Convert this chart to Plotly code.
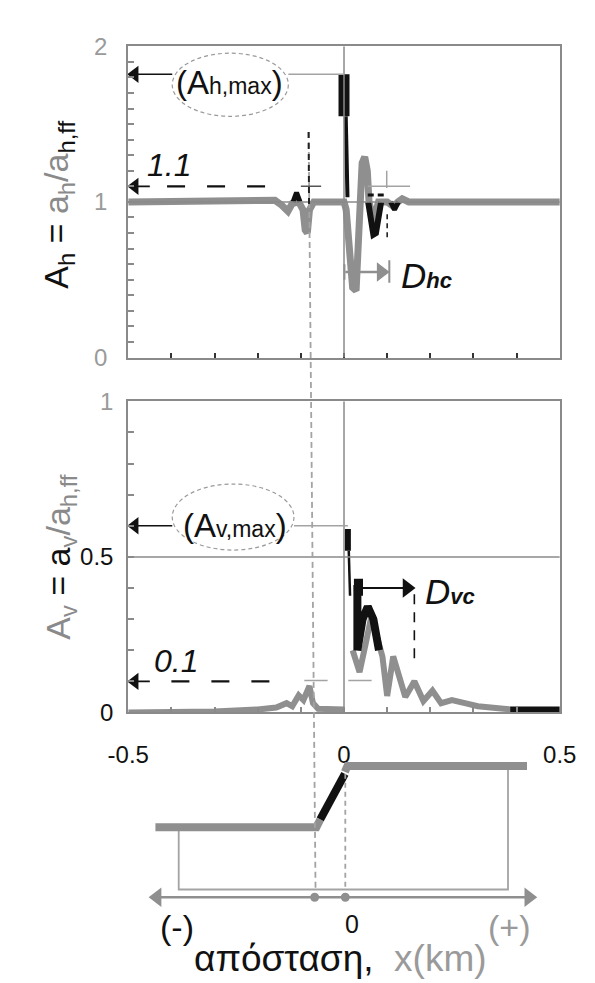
import plotly.graph_objects as go

# ---------------- data ----------------
# Panel 1: horizontal amplification A_h = a_h / a_h,ff  (grey full record)
x_h = [-0.5, -0.3, -0.2, -0.16, -0.145, -0.13, -0.12, -0.105, -0.095, -0.09, -0.085,
       -0.08, -0.07, -0.02, 0.0, 0.005, 0.015, 0.02, 0.028, 0.035, 0.042, 0.048,
       0.054, 0.058, 0.065, 0.07, 0.075, 0.08, 0.1, 0.115, 0.125, 0.135, 0.15, 0.5]
a_h = [1.0, 1.0, 1.0, 1.01, 0.98, 0.94, 0.99, 1.0, 0.95, 0.82, 0.8,
       0.95, 1.0, 1.0, 1.0, 0.95, 0.6, 0.45, 0.43, 0.9, 1.25, 1.29,
       1.2, 1.0, 0.92, 0.85, 0.95, 1.0, 1.0, 0.97, 1.0, 1.02, 1.0, 1.0]
# black (highlighted) parts of A_h
x_h_peak, a_h_peak = [0.0, 0.0], [1.82, 1.55]
x_h_drop, a_h_drop = [0.004, 0.008], [1.55, 1.03]
x_h_bump, a_h_bump = [-0.118, -0.11, -0.102], [1.0, 1.06, 1.0]
x_h_dip1, a_h_dip1 = [0.056, 0.062, 0.068, 0.074, 0.08, 0.086], [1.0, 0.86, 0.79, 0.8, 0.9, 1.0]
x_h_dip2, a_h_dip2 = [0.108, 0.117, 0.126], [1.0, 0.95, 1.0]

# Panel 2: vertical amplification A_v = a_v / a_h,ff  (grey record)
x_v = [-0.5, -0.3, -0.2, -0.157, -0.133, -0.12, -0.105, -0.094, -0.08, -0.072, -0.06, 0.0,
       None, 0.02, 0.036, 0.05, 0.062, 0.075, 0.089, 0.1, 0.114, 0.142, 0.163, 0.184,
       0.205, 0.225, 0.25, 0.28, 0.31, 0.37, 0.385]
a_v = [0.0, 0.003, 0.01, 0.016, 0.03, 0.02, 0.055, 0.04, 0.085, 0.03, 0.012, 0.01,
       None, 0.2, 0.13, 0.22, 0.3, 0.25, 0.18, 0.053, 0.18, 0.05, 0.1, 0.037,
       0.07, 0.03, 0.04, 0.03, 0.02, 0.012, 0.01]
# black (highlighted) parts of A_v
x_v_peak, a_v_peak = [0.009, 0.009], [0.59, 0.52]
x_v_drop, a_v_drop = [0.011, 0.014], [0.52, 0.375]
x_v_n, a_v_n = [0.031, 0.031, 0.043, 0.055, 0.068, 0.081], [0.41, 0.2, 0.3, 0.34, 0.3, 0.2]
x_v_tail, a_v_tail = [0.385, 0.5], [0.01, 0.01]

# key quantities
A_h_max, A_h_thr, D_hc = 1.82, 1.1, 0.1
A_v_max, A_v_thr, D_vc = 0.6, 0.1, 0.16
x_toe, x_crest = -0.08, 0.0

# tick labels
x_tickvals = [-0.5, 0, 0.5]
x_ticktext = ["-0.5", "0", "0.5"]
yh_tickvals = [0, 1, 2]
yh_ticktext = ["0", "1", "2"]
yv_tickvals = [0, 0.5, 1]
yv_ticktext = ["<span style='color:#111'>0</span>", "<span style='color:#111'>0.5</span>", "1"]

# schematic of the slope (y in schematic units)
sch_low_x, sch_low_y = [-0.437, -0.064, -0.055], [155, 155, 163]
sch_black_x, sch_black_y = [-0.055, 0.002], [163, 210]
sch_up_x, sch_up_y = [0.002, 0.008, 0.424], [212, 218, 218]
sch_box_x, sch_box_y = [-0.383, -0.383, 0.38, 0.38], [155, 91, 91, 218]

# ---------------- styling ----------------
FONT = "Liberation Sans, Arial, sans-serif"
GRAY = "#8f8f8f"
LGRAY = "#a3a3a3"
AX = "#8a8a8a"
TXT_G = "#9a9a9a"

H = 983
XDOM = [106 / 595, 567 / 595]
Y1DOM = [1 - 345 / H, 1 - 25 / H]
Y2DOM = [1 - 710 / H, 1 - 390 / H]
Y3DOM = [0, 224 / H]

fig = go.Figure()


def line(x, y, color, width, xa="x", ya="y", dash=None):
    fig.add_trace(go.Scatter(x=x, y=y, mode="lines", xaxis=xa, yaxis=ya,
                             line=dict(color=color, width=width, dash=dash),
                             hoverinfo="skip", showlegend=False, connectgaps=False))


def head(x, y, symbol, color, size, xa="x", ya="y"):
    fig.add_trace(go.Scatter(x=[x], y=[y], mode="markers", xaxis=xa, yaxis=ya,
                             marker=dict(symbol=symbol, color=color, size=size,
                                         line=dict(width=0)),
                             hoverinfo="skip", showlegend=False, cliponaxis=False))


# panel 1
line(x_h, a_h, GRAY, 7, "x", "y")
for xs, ys, w in [(x_h_peak, a_h_peak, 11), (x_h_drop, a_h_drop, 4), (x_h_bump, a_h_bump, 5),
                  (x_h_dip1, a_h_dip1, 6), (x_h_dip2, a_h_dip2, 5)]:
    line(xs, ys, "#111", w, "x", "y")

# panel 2
line(x_v, a_v, GRAY, 6, "x2", "y2")
for xs, ys, w in [(x_v_peak, a_v_peak, 6), (x_v_drop, a_v_drop, 2.5),
                  (x_v_n, a_v_n, 8), (x_v_tail, a_v_tail, 6)]:
    line(xs, ys, "#111", w, "x2", "y2")

# schematic
line(sch_box_x, sch_box_y, LGRAY, 1.8, "x3", "y3")
line(sch_low_x, sch_low_y, GRAY, 8, "x3", "y3")
line(sch_up_x, sch_up_y, GRAY, 8, "x3", "y3")
line(sch_black_x, sch_black_y, "#111", 8, "x3", "y3")
line([-0.43, 0.425], [83, 83], GRAY, 2.5, "x3", "y3")
head(-0.433, 83, "triangle-left", GRAY, 17, "x3", "y3")
head(0.428, 83, "triangle-right", GRAY, 17, "x3", "y3")
fig.add_trace(go.Scatter(x=[x_toe + 0.012, x_crest + 0.003], y=[83, 83], mode="markers",
                         xaxis="x3", yaxis="y3", marker=dict(color=GRAY, size=9),
                         hoverinfo="skip", showlegend=False))

# arrows of the annotations
line([-0.485, -0.398], [A_h_max, A_h_max], "#111", 1.6, "x", "y")
head(-0.485, A_h_max, "triangle-left", "#111", 15, "x", "y")
line([-0.485, -0.45], [A_h_thr, A_h_thr], "#111", 1.6, "x", "y")
head(-0.485, A_h_thr, "triangle-left", "#111", 15, "x", "y")
line([0.003, 0.085], [0.55, 0.55], GRAY, 2.5, "x", "y")
head(0.086, 0.55, "triangle-right", GRAY, 17, "x", "y")

line([-0.485, -0.398], [A_v_max, A_v_max], "#111", 1.6, "x2", "y2")
head(-0.485, A_v_max, "triangle-left", "#111", 15, "x2", "y2")
line([-0.485, -0.45], [A_v_thr, A_v_thr], "#111", 1.6, "x2", "y2")
head(-0.485, A_v_thr, "triangle-left", "#111", 15, "x2", "y2")
line([0.044, 0.145], [0.4, 0.4], "#111", 1.8, "x2", "y2")
head(0.146, 0.4, "triangle-right", "#111", 17, "x2", "y2")

shapes = []


def seg(x0, y0, x1, y1, color, width, xref="x", yref="y", dash=None):
    shapes.append(dict(type="line", x0=x0, y0=y0, x1=x1, y1=y1, xref=xref, yref=yref,
                       line=dict(color=color, width=width, dash=dash), layer="above"))


# reference lines
seg(-0.5, 1, 0.5, 1, AX, 1.5)
seg(0, 0, 0, 2, AX, 1.5)
seg(-0.5, 0.5, 0.5, 0.5, AX, 1.5, "x2", "y2")
seg(0, 0, 0, 1, AX, 1.5, "x2", "y2")
seg(x_crest + 0.003, 210, x_crest + 0.003, 91, LGRAY, 1.8, "x3", "y3", "5px,4px")
# toe line crossing all panels
seg(x_toe - 0.002, 1 - 113 / H, x_toe + 0.014, 1 - 892 / H, LGRAY, 1.8, "x", "paper", "6px,4px")
seg(x_toe - 0.002, 1.45, x_toe - 0.001, 0.98, "#222", 2, "x", "y", "6px,5px")

# panel 1 annotations lines
seg(-0.129, A_h_max, 0.0, A_h_max, LGRAY, 1.5)
seg(-0.41, A_h_thr, -0.15, A_h_thr, "#111", 2.2, "x", "y", "18px,22px")
seg(-0.1, A_h_thr, -0.053, A_h_thr, "#555", 1.5)
seg(0.055, A_h_thr, 0.153, A_h_thr, LGRAY, 1.5)
seg(0.099, 1.2, 0.099, 1.09, LGRAY, 1.5)
seg(0.055, 1.045, 0.1, 1.045, "#111", 3, "x", "y", "6px,4px")
seg(0.1, 0.92, 0.1, 0.77, "#111", 1.5, "x", "y", "5px,4px")
seg(D_hc + 0.005, 0.625, D_hc + 0.005, 0.48, GRAY, 2)
seg(0.001, 0.6, 0.001, 0.5, GRAY, 2)
shapes.append(dict(type="circle", xref="x", yref="y", x0=-0.398, x1=-0.129, y0=1.55, y1=1.956,
                   line=dict(color="#9a9a9a", width=1.2, dash="4px,3px")))

# panel 2 annotation lines
seg(-0.116, A_v_max, 0.009, A_v_max, LGRAY, 1.5, "x2", "y2")
seg(-0.4, A_v_thr, -0.13, A_v_thr, "#111", 2.2, "x2", "y2", "18px,22px")
seg(-0.092, 0.103, -0.038, 0.103, LGRAY, 1.5, "x2", "y2")
seg(0.01, 0.103, 0.064, 0.103, LGRAY, 1.5, "x2", "y2")
seg(D_vc + 0.003, 0.38, D_vc + 0.003, 0.155, "#111", 1.6, "x2", "y2", "10px,8px")
shapes.append(dict(type="rect", xref="x2", yref="y2", x0=0.023, x1=0.044, y0=0.375, y1=0.43,
                   fillcolor="#111", line=dict(width=0)))
shapes.append(dict(type="circle", xref="x2", yref="y2", x0=-0.398, x1=-0.116, y0=0.522, y1=0.734,
                   line=dict(color="#9a9a9a", width=1.2, dash="4px,3px")))

ann = []


def text(x, y, t, size, color="#111", xref="x", yref="y", **kw):
    d = dict(x=x, y=y, xref=xref, yref=yref, text=t, showarrow=False,
             xanchor="center", yanchor="middle",
             font=dict(family=FONT, size=size, color=color))
    d.update(kw)
    ann.append(d)


# panel 1 texts
text(-0.265, 1.77, "(A<span style='font-size:23px'>h,max</span>)", 33)
text(-0.405, 1.24, "<i>1.1</i>", 32)
text(0.128, 0.53, "<i>D</i><b><i><span style='font-size:22px'>hc</span></i></b>", 35,
     xanchor="left")

# panel 2 texts
text(-0.253, 0.6, "(A<span style='font-size:23px'>v,max</span>)", 33, xref="x2", yref="y2")
text(-0.39, 0.165, "<i>0.1</i>", 32, xref="x2", yref="y2")
text(0.182, 0.39, "<i>D</i><b><i><span style='font-size:22px'>vc</span></i></b>", 35,
     xref="x2", yref="y2", xanchor="left")

# axis titles (rotated)
text(32 / 595, 1 - 188 / H,
     "A<sub>h</sub> = <span style='color:#8a8a8a'>a<sub>h</sub>/a</span><sub>h,ff</sub>",
     34, xref="paper", yref="paper", textangle=-90)
text(34 / 595, 1 - 550 / H,
     "<span style='color:#8a8a8a'>A<sub>v</sub></span> = a<span style='color:#8a8a8a'><sub>v</sub>/a<sub>h,ff</sub></span>",
     34, xref="paper", yref="paper", textangle=-90)

# schematic texts
text(-0.388, 52, "(-)", 34, "#111", "x3", "y3")
text(0.018, 56, "0", 25, "#111", "x3", "y3")
text(0.383, 52, "(+)", 34, TXT_G, "x3", "y3")
text(-0.007, 20, "απόσταση,  <span style='color:#9a9a9a'>x(km)</span>", 37, "#111", "x3", "y3")

axis_common = dict(showline=True, mirror=True, linecolor=AX, linewidth=2, showgrid=False,
                   zeroline=False, fixedrange=True)
tickfont = dict(family=FONT, size=24, color=TXT_G)

fig.update_layout(
    width=595, height=H, margin=dict(l=0, r=0, t=0, b=0),
    paper_bgcolor="white", plot_bgcolor="white", showlegend=False,
    xaxis=dict(domain=XDOM, anchor="y", range=[-0.5, 0.5], tickmode="linear", tick0=0, dtick=0.1,
               ticks="inside", ticklen=5, tickwidth=2, tickcolor="#333", showticklabels=False,
               **axis_common),
    yaxis=dict(domain=Y1DOM, anchor="x", range=[0, 2], tickmode="array", tickvals=yh_tickvals,
               ticktext=yh_ticktext, ticks="inside", ticklen=6, tickwidth=1.5, tickcolor=AX,
               tickfont=tickfont, ticklabelstandoff=14,
               minor=dict(dtick=0.1, tick0=0, ticks="inside", ticklen=6, tickwidth=1.5, tickcolor=AX),
               **axis_common),
    xaxis2=dict(domain=XDOM, anchor="y2", range=[-0.5, 0.5], tickmode="array", tickvals=x_tickvals,
                ticktext=x_ticktext, ticks="inside", ticklen=5, tickwidth=1.5, tickcolor=AX,
                tickfont=dict(family=FONT, size=24, color="#111"), ticklabelstandoff=20,
                minor=dict(dtick=0.1, tick0=0, ticks="inside", ticklen=5, tickwidth=1.5, tickcolor=AX),
                **axis_common),
    yaxis2=dict(domain=Y2DOM, anchor="x2", range=[0, 1], tickmode="array", tickvals=yv_tickvals,
                ticktext=yv_ticktext, ticks="inside", ticklen=6, tickwidth=1.5, tickcolor=AX,
                tickfont=tickfont, ticklabelstandoff=8,
                minor=dict(dtick=0.1, tick0=0, ticks="inside", ticklen=6, tickwidth=1.5, tickcolor=AX),
                **axis_common),
    xaxis3=dict(domain=XDOM, anchor="y3", range=[-0.5, 0.5], visible=False, fixedrange=True),
    yaxis3=dict(domain=Y3DOM, anchor="x3", range=[0, 224], visible=False, fixedrange=True),
    shapes=shapes, annotations=ann,
)

fig.write_html("out.html")
